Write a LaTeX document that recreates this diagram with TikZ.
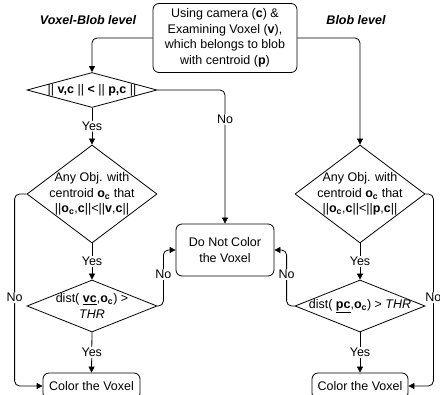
\documentclass[tikz,border=0pt]{standalone}
\usepackage{fontspec}
\setmainfont{Liberation Sans}
\usetikzlibrary{shapes.geometric,arrows.meta}
\begin{document}
\begin{tikzpicture}[x=1pt,y=-1pt,
  every node/.style={font=\fontsize{12.5}{15.5}\selectfont},
  box/.style={draw, rounded corners=6pt, line width=0.8pt, align=center, inner sep=0pt},
  dia/.style={diamond, draw, line width=0.8pt, inner sep=0pt, minimum width=130, minimum height=#1},
  txt/.style={align=center, inner sep=0pt},
  lbl/.style={fill=white, inner sep=1pt},
  arr/.style={line width=0.8pt, rounded corners=5pt, -{Triangle[length=6pt,width=6pt]}},
  ttl/.style={font=\fontsize{12.5}{15}\selectfont\bfseries\itshape}
]
\useasboundingbox (0,0) rectangle (440,395);
% titles
\node[ttl] (t1) at (88,20) {Voxel-Blob level};
\node[ttl] (t2) at (356,20) {Blob level};
% top box
\node[box, minimum width=144, minimum height=69] (top) at (225,38)
  {Using camera (\textbf{c}) \&\\Examining Voxel (\textbf{v}),\\which belongs to blob\\with centroid (\textbf{p})};
% left column
\node[dia=35] (d1) at (92,90) {};
\node[txt] (d1t) at (92,90) {|| \textbf{v,c} || \textbf{<} || \textbf{p,c} ||};
\node[dia=98] (d2) at (92,194) {};
\node[txt] (d2t) at (92,194) {Any Obj. with\\centroid \textbf{o}\textsubscript{\textbf{c}} that\\||\textbf{o}\textsubscript{\textbf{c}},\textbf{c}||<||\textbf{v},\textbf{c}||};
\node[dia=52] (d3) at (92,306) {};
\node[txt] (d3t) at (92,306) {dist( \underline{\textbf{vc}},\textbf{o}\textsubscript{\textbf{c}}) >\\\textit{THR}};
\node[box, minimum width=97, minimum height=26] (cl) at (91.5,386) {Color the Voxel};
% middle
\node[box, minimum width=98, minimum height=52] (dnc) at (225,250) {Do Not Color\\the Voxel};
% right column
\node[dia=98] (rd2) at (360,194) {};
\node[txt] (rd2t) at (360,194) {Any Obj. with\\centroid \textbf{o}\textsubscript{\textbf{c}} that\\||\textbf{o}\textsubscript{\textbf{c}},\textbf{c}||<||\textbf{p},\textbf{c}||};
\node[dia=52] (rd3) at (360,306) {};
\node[txt] (rd3t) at (360,306) {dist( \underline{\textbf{pc}},\textbf{o}\textsubscript{\textbf{c}}) > \textit{THR}};
\node[box, minimum width=96, minimum height=26] (rc) at (360,386) {Color the Voxel};
% connectors
\draw[arr] (top.west) -| (d1.north);
\draw[arr] (top.east) -| (rd2.north);
\draw[arr] (d1.east) -| node[lbl, pos=0.61] {No} (dnc.north);
\draw[arr] (d1.south) -- node[lbl] {Yes} (d2.north);
\draw[arr] (d2.south) -- node[lbl] {Yes} (d3.north);
\draw[arr] (d3.south) -- node[lbl] {Yes} (cl.north);
\draw[arr] (d2.west) -- ++(-12,0) |- node[lbl, pos=0.27] {No} (cl.west);
\draw[arr] (d3.east) -- ++(6,0) |- node[lbl, pos=0.28] {No} (dnc.west);
\draw[arr] (rd2.south) -- node[lbl] {Yes} (rd3.north);
\draw[arr] (rd3.south) -- node[lbl] {Yes} (rc.north);
\draw[arr] (rd3.west) -- ++(-8,0) |- node[lbl, pos=0.28] {No} (dnc.east);
\draw[arr] (rd2.east) -- ++(8,0) |- node[lbl, pos=0.27] {No} (rc.east);
\end{tikzpicture}
\end{document}
